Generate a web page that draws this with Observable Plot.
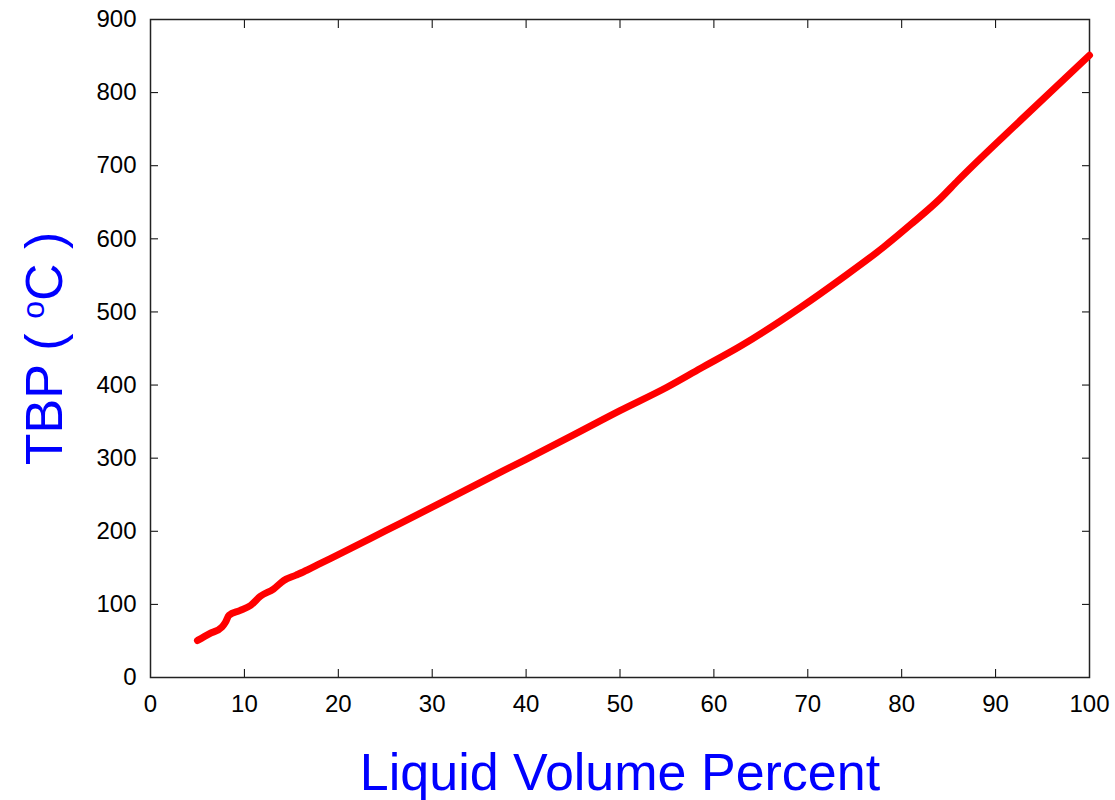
<!DOCTYPE html>
<html>
<head>
<meta charset="utf-8">
<script src="https://cdn.jsdelivr.net/npm/d3@7"></script>
<script src="https://cdn.jsdelivr.net/npm/@observablehq/plot@0.6"></script>
<style>
  html, body { margin: 0; padding: 0; background: #fff; }
  #chart { width: 1115px; height: 800px; }
</style>
</head>
<body>
<div id="chart"></div>
<script>
// Liquid volume percent (x) and TBP in °C (y)
const volumePercent = [5, 6.3, 7.6, 8.0, 8.35, 9.5, 10.65, 11.7, 13.1, 14.2, 15.5, 16.7, 18.1, 20, 25, 30, 35, 40, 45, 50, 55, 58.6, 62.8, 69.2, 73.5, 78.1, 81, 84.1, 86, 92.65, 100];
const tbpCelsius    = [50.6, 60, 69, 76, 85, 91.5, 98.5, 111, 121, 132.7, 140, 147, 156, 168, 200.5, 233, 266, 298.5, 331.5, 365, 397, 423, 453, 506, 545, 589, 620, 655, 680, 762, 851];
const xTicks = [0, 10, 20, 30, 40, 50, 60, 70, 80, 90, 100];
const yTicks = [0, 100, 200, 300, 400, 500, 600, 700, 800, 900];
const xLabel = "Liquid Volume Percent";
const yLabel = "TBP ( oC )";

const data = volumePercent.map((x, i) => ({x, y: tbpCelsius[i]}));

const chart = Plot.plot({
  width: 1115,
  height: 800,
  marginLeft: 150,
  marginRight: 26,
  marginTop: 19,
  marginBottom: 123,
  style: {fontFamily: "'Liberation Sans', Arial, sans-serif", fontSize: "24px", color: "#000", background: "#fff"},
  x: {domain: [0, 100]},
  y: {domain: [0, 900]},
  marks: [
    Plot.axisX(xTicks, {anchor: "bottom", tickSize: -8, tickPadding: 25, label: null, fontSize: 24}),
    Plot.axisX(xTicks, {anchor: "top", tickSize: -8, fill: "none", label: null}),
    Plot.axisY(yTicks, {anchor: "left", tickSize: -8, tickPadding: 22, label: null, fontSize: 24}),
    Plot.axisY(yTicks, {anchor: "right", tickSize: -8, fill: "none", label: null}),
    Plot.frame({stroke: "#222", strokeWidth: 1.5}),
    Plot.line(data, {x: "x", y: "y", stroke: "red", strokeWidth: 7, strokeLinecap: "round", strokeLinejoin: "round", curve: "monotone-x"}),
    Plot.text([xLabel], {frameAnchor: "bottom", lineAnchor: "middle", textAnchor: "middle", dy: 96, fontSize: 52, fill: "blue"}),
    Plot.text([yLabel], {frameAnchor: "left", lineAnchor: "middle", textAnchor: "middle", dx: -105, rotate: -90, fontSize: 52, fill: "blue"})
  ]
});

// superscript "o" in the y label
d3.select(chart).selectAll("text").each(function() {
  const t = d3.select(this);
  if (t.text() === yLabel) {
    t.text("");
    t.append("tspan").text("TBP ( ");
    t.append("tspan").text("o").attr("font-size", "32px").attr("baseline-shift", "55%");
    t.append("tspan").text("C )");
  }
});

document.getElementById("chart").appendChild(chart);
</script>
</body>
</html>
